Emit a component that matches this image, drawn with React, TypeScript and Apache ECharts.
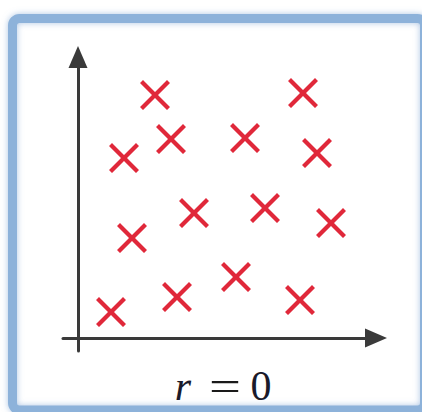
import React, { useEffect, useRef } from "react";
import * as echarts from "echarts";

const xValues = [7.7, 22.5, 4.6, 9.3, 16.7, 23.9, 11.6, 18.7, 5.4, 25.3, 3.3, 9.9, 15.8, 22.2];
const yValues = [24.3, 24.5, 18.0, 19.9, 20.0, 18.5, 12.5, 13.0, 10.0, 11.5, 2.6, 4.1, 6.1, 3.8];
const captionParts = ["r", "=", "0"];

const X_MARK =
  "path://M3,0 L15,12 L27,0 L30,3 L18,15 L30,27 L27,30 L15,18 L3,30 L0,27 L12,15 L0,3 Z";

export default function App() {
  const ref = useRef<HTMLDivElement>(null);
  useEffect(() => {
    if (!ref.current) return;
    const chart = echarts.init(ref.current, null, { renderer: "svg" });
    const data = xValues.map((x, i) => [x, yValues[i]]);
    chart.setOption({
      animation: false,
      backgroundColor: "#ffffff",
      grid: { left: 63, top: 57, width: 313, height: 294 },
      xAxis: {
        type: "value",
        min: -1.5,
        max: 29.8,
        splitLine: { show: false },
        axisTick: { show: false },
        axisLabel: { show: false },
        axisLine: {
          show: true,
          onZero: true,
          symbol: ["none", "triangle"],
          symbolSize: [19, 22],
          lineStyle: { color: "#3a3a3a", width: 3 },
        },
      },
      yAxis: {
        type: "value",
        min: -1.3,
        max: 28.1,
        splitLine: { show: false },
        axisTick: { show: false },
        axisLabel: { show: false },
        axisLine: {
          show: true,
          onZero: true,
          symbol: ["none", "triangle"],
          symbolSize: [19, 22],
          lineStyle: { color: "#3a3a3a", width: 3 },
        },
      },
      series: [
        {
          type: "scatter",
          data,
          symbol: X_MARK,
          symbolSize: 30,
          itemStyle: { color: "#e0283a", opacity: 1 },
          z: 5,
        },
      ],
      graphic: [
        {
          type: "rect",
          z: -1,
          silent: true,
          shape: { x: 12.5, y: 18.5, width: 412, height: 391.5, r: 7 },
          style: {
            fill: "none",
            stroke: "#8db2da",
            lineWidth: 9,
            shadowBlur: 6,
            shadowColor: "rgba(120,160,210,0.6)",
          },
        },
        {
          type: "text",
          x: 183,
          y: 386,
          style: {
            text: captionParts[0],
            font: "italic 42px 'Liberation Serif', serif",
            fill: "#1a1a2a",
            align: "center",
            verticalAlign: "middle",
          },
        },
        {
          type: "text",
          x: 225,
          y: 386,
          scaleX: 1.35,
          style: {
            text: captionParts[1],
            font: "42px 'Liberation Serif', serif",
            fill: "#1a1a1a",
            align: "center",
            verticalAlign: "middle",
          },
        },
        {
          type: "text",
          x: 261,
          y: 386,
          style: {
            text: captionParts[2],
            font: "42px 'Liberation Serif', serif",
            fill: "#1a1a2a",
            align: "center",
            verticalAlign: "middle",
          },
        },
      ],
    });
    return () => chart.dispose();
  }, []);
  return (
    <div
      ref={ref}
      style={{ position: "fixed", left: 0, top: 0, width: 422, height: 412 }}
    />
  );
}
